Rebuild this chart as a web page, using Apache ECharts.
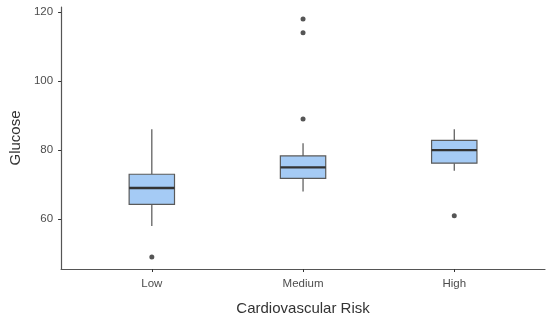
<!DOCTYPE html>
<html><head><meta charset="utf-8">
<script src="https://cdn.jsdelivr.net/npm/echarts@6/dist/echarts.min.js"></script>
<style>html,body{margin:0;padding:0;background:#fff}#c{width:550px;height:321px}</style>
</head><body><div id="c"></div>
<script>
const categories = ["Low", "Medium", "High"];
// [lowerWhisker, Q1, median, Q3, upperWhisker]
const lowBox = [58, 64.3, 69, 73, 86];
const mediumBox = [68, 71.8, 75, 78.3, 82];
const highBox = [74, 76.2, 80, 82.8, 86];
const lowOutliers = [49];
const mediumOutliers = [89, 114, 118];
const highOutliers = [61];
const yTicks = [60, 80, 100, 120];

const boxes = [lowBox, mediumBox, highBox];
const outliers = [lowOutliers, mediumOutliers, highOutliers];
const boxData = boxes.map((b, i) => [i + 1].concat(b));
const outlierData = [];
outliers.forEach((arr, i) => arr.forEach(v => outlierData.push([i + 1, v])));

const font = '"Liberation Sans", Arial, Helvetica, sans-serif';
const chart = echarts.init(document.getElementById('c'), null, {renderer: 'canvas'});
chart.setOption({
  animation: false,
  grid: {left: 60, right: 5, top: 7, bottom: 51},
  xAxis: {
    type: 'value', min: 0.4, max: 3.6,
    name: 'Cardiovascular Risk', nameLocation: 'middle', nameGap: 32,
    nameTextStyle: {fontFamily: font, fontSize: 15, color: '#333'},
    axisLine: {show: true, onZero: false, lineStyle: {color: '#555', width: 1.2}},
    axisTick: {show: true, length: 3, customValues: [1, 2, 3], lineStyle: {color: '#333'}},
    axisLabel: {customValues: [1, 2, 3], margin: 9, fontFamily: font, fontSize: 11.5, color: '#4d4d4d',
      formatter: v => categories[Math.round(v) - 1] || ''},
    splitLine: {show: false}
  },
  yAxis: {
    type: 'value', min: 45.55, max: 121.45,
    name: 'Glucose', nameLocation: 'middle', nameGap: 38,
    nameTextStyle: {fontFamily: font, fontSize: 15, color: '#333'},
    axisLine: {show: true, onZero: false, lineStyle: {color: '#555', width: 1.2}},
    axisTick: {show: true, length: 3, customValues: yTicks, lineStyle: {color: '#333'}},
    axisLabel: {customValues: yTicks, margin: 8, fontFamily: font, fontSize: 11.5, color: '#4d4d4d'},
    splitLine: {show: false}
  },
  series: [
    {
      type: 'custom',
      data: boxData,
      encode: {x: 0, y: [1, 2, 3, 4, 5]},
      renderItem: function (params, api) {
        const x = api.value(0);
        const half = 0.15;
        const pMin = api.coord([x, api.value(1)]);
        const pQ1 = api.coord([x, api.value(2)]);
        const pMed = api.coord([x, api.value(3)]);
        const pQ3 = api.coord([x, api.value(4)]);
        const pMax = api.coord([x, api.value(5)]);
        const left = api.coord([x - half, api.value(3)])[0];
        const right = api.coord([x + half, api.value(3)])[0];
        const lineStyle = {stroke: '#555', lineWidth: 1.2};
        return {
          type: 'group',
          children: [
            {type: 'line', shape: {x1: pMin[0], y1: pMin[1], x2: pQ1[0], y2: pQ1[1]}, style: lineStyle},
            {type: 'line', shape: {x1: pQ3[0], y1: pQ3[1], x2: pMax[0], y2: pMax[1]}, style: lineStyle},
            {type: 'rect', shape: {x: left, y: pQ3[1], width: right - left, height: pQ1[1] - pQ3[1]},
              style: {fill: '#a5cbf5', stroke: '#5a5a5a', lineWidth: 1.2}},
            {type: 'line', shape: {x1: left, y1: pMed[1], x2: right, y2: pMed[1]},
              style: {stroke: '#333', lineWidth: 2.4}}
          ]
        };
      }
    },
    {
      type: 'scatter',
      data: outlierData,
      symbol: 'circle', symbolSize: 5,
      itemStyle: {color: '#2a2a2a'}
    }
  ]
});
</script></body></html>
